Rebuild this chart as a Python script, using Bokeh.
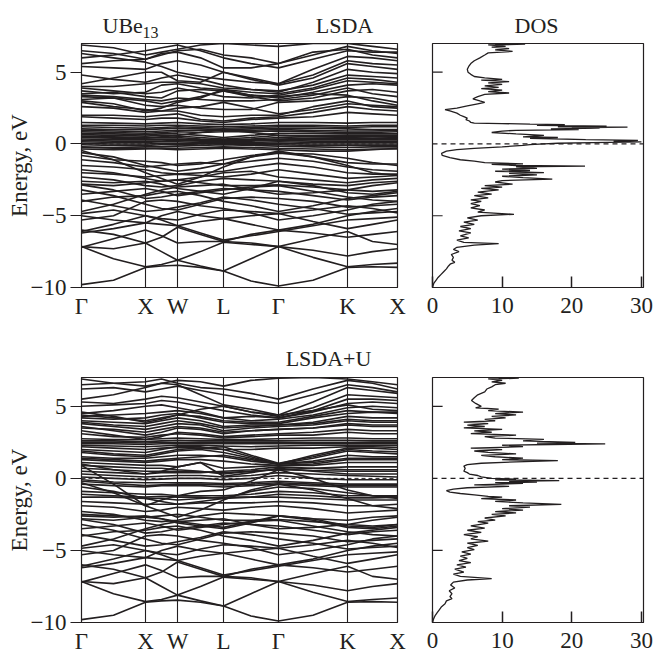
from bokeh.plotting import figure
from bokeh.layouts import column, row
from bokeh.models import FixedTicker, Span, Range1d
from bokeh.core.properties import value
from bokeh.embed import file_html
from bokeh.resources import INLINE

FONT = "Liberation Serif"
INK = "#231f20"

# ---------------- axes data ----------------
k_tick_pos = [0, 64, 96, 142, 197, 266, 316]
k_tick_labels = ["Γ", "X", "W", "L", "Γ", "K", "X"]
# sample points along the path: Γ, mid, X, mid, W, mid, L, mid, Γ, mid, K, mid, X
k_path = [0, 32, 64, 80, 96, 119, 142, 169.5, 197, 231.5, 266, 291, 316]
energy_ticks = [-10, -5, 0, 5]
energy_tick_labels = ["−10", "−5", "0", "5"]
dos_ticks = [0, 10, 20, 30]
dos_tick_labels = ["0", "10", "20", "30"]
dos_energy_ticks = [-5, 5]

# ---------------- bands shared by both calculations (Be s-p valence) ----------------
deep_bands = [
    [-9.8, -9.5, -8.6, -8.5, -8.45, -8.6, -8.85, -9.55, -9.9, -9.5, -8.6, -8.55, -8.6],
    [-7.15, -8.0, -8.55, -8.4, -8.1, -8.5, -8.85, -8.0, -7.15, -7.9, -8.55, -8.4, -8.3],
    [-7.15, -7.3, -6.9, -7.5, -8.1, -7.5, -6.85, -7.0, -7.15, -7.4, -7.8, -7.5, -7.3],
    [-7.2, -6.6, -6.0, -6.4, -6.9, -6.8, -6.8, -6.9, -7.15, -6.6, -6.1, -6.8, -7.0],
    [-6.0, -6.3, -6.9, -6.5, -5.8, -6.3, -6.8, -6.3, -6.0, -6.2, -6.5, -6.3, -6.1],
    [-6.1, -5.6, -5.0, -5.3, -5.7, -6.2, -6.7, -6.4, -6.1, -5.7, -5.3, -5.2, -5.1],
    [-5.0, -5.3, -5.5, -5.6, -5.7, -5.4, -5.2, -5.0, -4.85, -5.4, -5.9, -5.6, -5.3],
    [-4.85, -4.6, -5.0, -5.2, -5.3, -4.9, -4.6, -4.7, -4.85, -4.6, -4.3, -4.5, -4.8],
    [-5.3, -5.0, -4.0, -3.9, -4.0, -4.3, -4.5, -4.8, -5.3, -5.0, -4.6, -4.2, -4.0],
    [-4.0, -3.7, -3.6, -3.4, -3.3, -3.6, -4.0, -4.3, -4.7, -4.3, -3.8, -3.6, -3.4],
    [-3.5, -3.3, -3.1, -3.3, -3.6, -3.4, -3.2, -3.0, -2.9, -3.3, -3.7, -3.9, -4.0],
    [-2.85, -3.2, -3.8, -3.7, -3.5, -3.3, -3.1, -3.2, -3.3, -3.6, -3.9, -3.7, -3.6],
    [-2.8, -2.9, -2.7, -2.6, -2.5, -2.7, -2.9, -2.9, -2.85, -3.0, -3.2, -3.3, -3.2],
    [-2.3, -2.5, -2.9, -3.0, -2.9, -2.6, -2.4, -2.5, -2.6, -2.8, -2.9, -2.7, -2.6],
    [-4.7, -4.2, -3.5, -3.2, -3.0, -2.9, -2.8, -3.2, -3.5, -3.4, -3.2, -2.9, -2.7],
    [-6.2, -5.9, -5.5, -5.0, -4.7, -5.0, -5.2, -5.6, -6.0, -5.6, -5.0, -4.7, -4.5],
    [-2.6, -2.7, -2.6, -2.8, -3.1, -3.3, -3.5, -3.1, -2.6, -2.9, -3.4, -3.5, -3.3],
    [-3.2, -3.6, -4.2, -4.5, -4.6, -4.2, -3.8, -3.7, -3.8, -4.0, -4.4, -4.3, -4.2],
    [-3.9, -4.3, -4.7, -4.6, -4.4, -4.1, -3.7, -3.9, -4.2, -4.5, -4.9, -4.8, -4.7],
]

# ---------------- LSDA specific bands ----------------
lsda_valence = [
    [-0.45, -1.1, -2.0, -2.4, -2.8, -2.3, -1.6, -0.9, -0.5, -0.9, -1.5, -2.0, -2.2],
    [-0.6, -0.9, -1.5, -1.7, -1.9, -1.7, -1.4, -0.9, -0.65, -0.7, -1.0, -1.3, -1.5],
    [-1.1, -1.3, -1.6, -1.5, -1.4, -1.3, -1.4, -1.2, -1.0, -1.2, -1.6, -1.8, -1.9],
    [-1.5, -1.6, -1.8, -2.0, -2.1, -2.0, -1.9, -1.6, -1.35, -1.6, -2.0, -2.1, -2.1],
    [-2.0, -2.1, -2.3, -2.2, -2.1, -2.2, -2.3, -2.1, -1.8, -2.1, -2.4, -2.3, -2.2],
    [-1.8, -2.0, -2.4, -2.6, -2.5, -2.3, -2.0, -1.9, -2.3, -2.5, -2.7, -2.5, -2.4],
    [-0.8, -1.1, -1.2, -1.3, -1.5, -1.4, -1.1, -0.8, -0.6, -0.9, -1.3, -1.4, -1.4],
]
lsda_f_bands = [
    [1.5, 1.45, 1.4, 1.45, 1.5, 1.4, 1.35, 1.4, 1.5, 1.5, 1.45, 1.5, 1.5],
    [1.3, 1.3, 1.25, 1.3, 1.3, 1.25, 1.2, 1.25, 1.3, 1.3, 1.25, 1.3, 1.3],
    [1.2, 1.15, 1.1, 1.15, 1.2, 1.15, 1.1, 1.15, 1.2, 1.2, 1.15, 1.2, 1.2],
    [1.05, 1.0, 1.0, 1.05, 1.1, 1.05, 1.0, 1.05, 1.1, 1.1, 1.05, 1.0, 1.0],
    [0.95, 0.9, 0.85, 0.9, 0.95, 0.95, 0.95, 0.95, 1.0, 0.95, 0.9, 0.9, 0.95],
    [0.85, 0.8, 0.75, 0.8, 0.85, 0.8, 0.85, 0.85, 0.9, 0.85, 0.8, 0.8, 0.85],
    [0.75, 0.7, 0.65, 0.7, 0.7, 0.6, 0.45, 0.6, 0.75, 0.75, 0.7, 0.7, 0.7],
    [0.65, 0.6, 0.55, 0.6, 0.55, 0.45, 0.35, 0.45, 0.6, 0.6, 0.6, 0.6, 0.6],
    [0.55, 0.5, 0.45, 0.45, 0.45, 0.35, 0.3, 0.35, 0.45, 0.5, 0.5, 0.5, 0.5],
    [0.5, 0.45, 0.4, 0.5, 0.6, 0.8, 1.0, 0.8, 0.6, 0.5, 0.45, 0.4, 0.45],
    [0.45, 0.4, 0.35, 0.35, 0.35, 0.3, 0.25, 0.3, 0.35, 0.4, 0.4, 0.4, 0.4],
    [0.35, 0.3, 0.3, 0.3, 0.3, 0.25, 0.2, 0.25, 0.3, 0.3, 0.3, 0.3, 0.3],
    [0.25, 0.2, 0.2, 0.2, 0.25, 0.2, 0.15, 0.2, 0.25, 0.2, 0.2, 0.2, 0.2],
    [0.15, 0.1, 0.1, 0.15, 0.15, 0.1, 0.1, 0.1, 0.15, 0.1, 0.1, 0.1, 0.1],
    [0.05, 0.0, 0.0, 0.05, 0.05, 0.05, 0.05, 0.05, 0.05, 0.0, 0.0, 0.0, 0.0],
    [-0.05, -0.1, -0.1, -0.05, -0.05, 0.0, 0.0, -0.05, -0.05, -0.1, -0.1, -0.1, -0.1],
    [-0.2, -0.25, -0.2, -0.2, -0.15, -0.1, -0.05, -0.1, -0.15, -0.2, -0.25, -0.2, -0.2],
    [-0.25, -0.3, -0.3, -0.35, -0.4, -0.35, -0.3, -0.35, -0.4, -0.5, -0.5, -0.4, -0.3],
    [-0.35, -0.4, -0.35, -0.3, -0.3, -0.25, -0.2, -0.25, -0.3, -0.35, -0.4, -0.35, -0.35],
]
lsda_conduction = [
    [6.9, 6.7, 6.2, 6.4, 6.6, 6.9, 7.0, 6.9, 6.8, 7.0, 7.0, 6.8, 6.6],
    [6.5, 6.3, 5.9, 6.2, 6.5, 6.6, 6.2, 6.0, 5.6, 6.2, 6.8, 6.5, 6.3],
    [5.6, 5.8, 5.9, 6.3, 6.4, 6.0, 5.3, 5.3, 5.6, 6.4, 6.6, 6.2, 6.0],
    [5.4, 5.3, 5.2, 5.6, 5.8, 5.5, 5.0, 4.6, 4.2, 5.2, 6.1, 6.0, 5.8],
    [4.2, 4.6, 5.0, 5.0, 4.4, 4.3, 5.0, 4.5, 4.1, 4.6, 5.6, 5.4, 5.2],
    [4.0, 4.0, 4.2, 4.3, 4.3, 4.2, 3.9, 3.8, 3.6, 4.3, 5.2, 5.0, 4.9],
    [3.7, 3.5, 3.6, 4.1, 4.2, 3.9, 3.8, 3.6, 3.5, 3.9, 4.6, 4.5, 4.3],
    [3.5, 3.6, 3.3, 3.2, 3.7, 3.8, 3.7, 3.4, 3.2, 3.6, 4.1, 4.2, 4.1],
    [3.3, 3.2, 3.0, 2.8, 3.0, 3.3, 3.7, 3.3, 3.0, 3.2, 3.7, 3.8, 3.6],
    [3.1, 3.2, 2.7, 2.6, 2.7, 2.5, 2.4, 2.4, 2.9, 3.0, 3.3, 3.2, 2.9],
    [2.9, 2.6, 2.4, 2.3, 2.3, 2.0, 1.9, 2.0, 2.0, 2.6, 3.0, 2.6, 2.5],
    [2.0, 2.0, 1.9, 2.0, 2.1, 1.7, 1.6, 1.8, 1.9, 2.2, 2.6, 2.4, 2.3],
    [1.9, 1.8, 1.7, 1.8, 1.8, 1.6, 1.5, 1.7, 1.8, 1.9, 2.2, 2.1, 2.0],
    [3.0, 2.8, 2.3, 2.5, 2.9, 3.2, 3.8, 3.4, 3.3, 3.5, 3.4, 3.0, 2.7],
    [6.3, 6.0, 5.7, 5.4, 5.0, 4.7, 4.5, 4.3, 4.2, 4.8, 5.8, 5.6, 5.5],
    [6.0, 6.2, 6.5, 6.7, 6.9, 6.5, 6.0, 5.6, 5.3, 5.9, 6.5, 6.4, 6.4],
    [4.8, 4.5, 4.3, 4.6, 4.8, 4.5, 4.1, 3.8, 3.7, 4.1, 4.8, 4.7, 4.6],
    [3.9, 3.7, 3.5, 3.6, 3.9, 3.6, 3.3, 3.2, 3.4, 3.8, 4.4, 4.3, 4.2],
    [3.4, 3.3, 3.1, 3.0, 3.2, 3.1, 3.0, 3.0, 3.1, 3.4, 3.9, 3.5, 3.3],
    [2.6, 2.5, 2.2, 2.3, 2.5, 2.6, 2.9, 2.5, 2.1, 2.4, 2.8, 2.7, 2.6],
]

# ---------------- LSDA+U specific bands ----------------
lsdau_valence = [
    [-0.3, -1.0, -1.9, -2.3, -2.7, -2.2, -1.5, -0.8, -0.4, -0.8, -1.4, -1.9, -2.1],
    [-0.6, -0.9, -1.4, -1.6, -1.8, -1.6, -1.4, -0.9, -0.6, -0.7, -1.0, -1.2, -1.4],
    [-1.9, -2.0, -2.3, -2.2, -2.0, -2.1, -2.2, -2.0, -1.9, -2.1, -2.4, -2.3, -2.2],
    [0.9, -0.4, -1.9, -1.5, -1.2, -0.9, -0.8, -0.2, 0.6, 0.0, -0.8, -1.2, -1.3],
    [-0.9, -1.0, -1.1, -1.1, -1.2, -1.2, -1.2, -1.1, -0.9, -1.0, -1.2, -1.2, -1.2],
    [-1.3, -1.3, -1.4, -1.4, -1.5, -1.4, -1.3, -1.3, -1.3, -1.4, -1.5, -1.5, -1.5],
    [-1.6, -1.7, -1.8, -1.8, -1.8, -1.7, -1.7, -1.7, -1.6, -1.7, -1.9, -1.9, -1.8],
    [-1.1, -1.2, -1.3, -1.25, -1.3, -1.3, -1.4, -1.3, -1.1, -1.2, -1.35, -1.35, -1.3],
    [-2.5, -2.6, -2.7, -2.8, -3.0, -3.2, -3.4, -3.0, -2.6, -2.8, -3.3, -3.4, -3.2],
]
lsdau_f_bands = [
    [1.1, 1.0, 0.9, 0.9, 0.8, 1.1, 0.7, 0.8, 0.9, 0.9, 1.1, 1.1, 1.1],
    [1.0, 0.6, 0.3, 0.5, 0.8, 1.1, 0.15, 0.4, 0.7, 0.5, 0.3, 0.3, 0.3],
    [0.9, 0.8, 0.7, 0.7, 0.6, 0.5, 0.3, 0.5, 0.6, 0.7, 0.8, 0.8, 0.8],
    [0.7, 0.6, 0.5, 0.5, 0.5, 0.45, 0.4, 0.5, 0.6, 0.55, 0.5, 0.5, 0.5],
    [0.5, 0.4, 0.3, 0.4, 0.4, 0.4, 0.5, 0.6, 0.8, 0.7, 0.6, 0.6, 0.6],
    [0.3, 0.2, 0.1, 0.15, 0.2, 0.2, 0.1, 0.2, 0.4, 0.3, 0.2, 0.15, 0.1],
    [0.1, 0.0, -0.1, -0.05, 0.0, 0.0, -0.1, 0.0, 0.2, 0.0, -0.1, -0.1, -0.1],
    [-0.1, -0.25, -0.3, -0.3, -0.3, -0.3, -0.35, -0.3, -0.2, -0.3, -0.4, -0.4, -0.4],
    [-0.2, -0.35, -0.5, -0.45, -0.4, -0.4, -0.45, -0.4, -0.3, -0.4, -0.5, -0.5, -0.5],
    [-0.4, -0.5, -0.6, -0.5, -0.5, -0.5, -0.6, -0.5, -0.4, -0.5, -0.6, -0.6, -0.6],
    [2.75, 2.7, 2.7, 2.75, 2.8, 2.75, 2.7, 2.7, 2.75, 2.8, 2.8, 2.75, 2.75],
    [2.6, 2.6, 2.55, 2.6, 2.65, 2.6, 2.6, 2.6, 2.6, 2.65, 2.65, 2.6, 2.6],
    [2.5, 2.5, 2.45, 2.5, 2.5, 2.5, 2.5, 2.5, 2.5, 2.5, 2.5, 2.5, 2.5],
    [2.4, 2.4, 2.35, 2.4, 2.4, 2.4, 2.4, 2.4, 2.4, 2.4, 2.4, 2.4, 2.4],
    [2.3, 2.25, 2.2, 2.25, 2.3, 2.3, 2.25, 2.2, 2.25, 2.3, 2.3, 2.3, 2.3],
    [2.2, 2.1, 2.0, 2.1, 2.15, 2.1, 2.0, 2.0, 2.1, 2.1, 2.2, 2.2, 2.15],
]
lsdau_conduction = [
    [6.9, 6.6, 6.4, 6.6, 6.8, 6.7, 6.4, 6.8, 6.95, 7.0, 6.9, 6.7, 6.5],
    [6.5, 6.6, 6.7, 6.9, 6.6, 6.3, 6.2, 5.9, 5.5, 6.2, 6.8, 6.6, 6.2],
    [6.2, 6.3, 6.0, 6.2, 6.4, 6.1, 5.8, 5.5, 5.2, 5.8, 6.5, 6.3, 6.0],
    [5.5, 5.8, 6.3, 6.6, 6.5, 5.8, 5.1, 4.8, 4.4, 5.3, 6.3, 6.1, 5.9],
    [5.3, 5.2, 5.5, 5.7, 5.6, 5.3, 5.0, 4.6, 4.3, 4.9, 5.8, 5.7, 5.6],
    [5.0, 5.1, 5.2, 5.4, 5.3, 5.0, 4.7, 4.4, 4.2, 4.7, 5.5, 5.5, 5.4],
    [4.6, 4.3, 3.9, 4.1, 4.4, 4.8, 5.0, 4.6, 4.4, 4.7, 5.1, 4.8, 4.7],
    [4.5, 4.7, 5.0, 5.1, 4.9, 4.6, 4.2, 4.3, 4.2, 4.6, 5.2, 5.3, 5.2],
    [4.4, 4.2, 4.0, 4.2, 4.4, 4.3, 4.0, 3.9, 3.9, 4.3, 4.7, 4.6, 4.6],
    [4.3, 4.4, 4.5, 4.6, 4.7, 4.5, 4.2, 4.0, 4.1, 4.4, 4.9, 5.0, 4.9],
    [4.2, 4.1, 4.2, 4.4, 4.5, 4.2, 3.9, 3.8, 3.8, 4.2, 4.5, 4.6, 4.5],
    [4.0, 3.9, 3.8, 4.0, 4.2, 4.0, 3.6, 3.7, 3.7, 3.9, 4.3, 4.2, 4.2],
    [3.9, 3.7, 3.6, 3.8, 4.0, 3.8, 3.5, 3.6, 3.7, 3.8, 4.1, 4.0, 4.0],
    [3.8, 3.6, 3.4, 3.6, 3.8, 3.7, 3.3, 3.5, 3.6, 3.7, 4.0, 3.9, 3.9],
    [3.6, 3.3, 3.0, 3.2, 3.5, 3.4, 3.1, 3.3, 3.4, 3.5, 3.7, 3.6, 3.6],
    [3.5, 3.4, 3.2, 3.4, 3.6, 3.5, 3.2, 3.3, 3.4, 3.5, 3.8, 3.7, 3.7],
    [3.3, 3.0, 2.7, 2.9, 3.2, 3.1, 2.9, 3.0, 3.1, 3.2, 3.4, 3.3, 3.3],
    [3.1, 2.9, 2.85, 3.0, 3.1, 3.0, 2.8, 2.9, 3.0, 3.0, 3.2, 3.1, 3.1],
    [2.0, 1.9, 1.8, 2.0, 2.2, 2.2, 2.0, 1.5, 1.0, 1.6, 2.1, 2.1, 2.0],
    [1.9, 1.7, 1.6, 1.8, 2.0, 2.1, 2.2, 1.6, 1.05, 1.5, 2.0, 1.9, 1.85],
    [1.8, 1.6, 1.5, 1.7, 1.9, 2.0, 1.8, 1.4, 1.0, 1.4, 1.9, 1.8, 1.7],
    [1.5, 1.4, 1.4, 1.5, 1.6, 1.6, 1.5, 1.2, 1.0, 1.2, 1.6, 1.5, 1.5],
    [1.4, 1.3, 1.2, 1.3, 1.4, 1.5, 1.6, 1.3, 1.0, 1.1, 1.4, 1.4, 1.4],
    [1.3, 1.2, 1.1, 1.2, 1.3, 1.3, 1.2, 1.0, 0.9, 1.0, 1.3, 1.3, 1.3],
]

# ---------------- densities of states (energy, states/eV) ----------------
lsda_dos_energy = [
    7.0, 6.95, 6.9, 6.8, 6.75, 6.65, 6.55, 6.45, 6.35, 6.2, 6.0, 5.8, 5.6, 5.4, 5.2, 5.0,
    4.85, 4.7, 4.6, 4.5, 4.45, 4.35, 4.25, 4.15, 4.05, 3.95, 3.85, 3.75, 3.65, 3.55, 3.45,
    3.3, 3.15, 3.0, 2.9, 2.8, 2.65, 2.5, 2.4, 2.3, 2.15, 2.0, 1.9, 1.8, 1.7, 1.6, 1.5,
    1.45, 1.42, 1.38, 1.35, 1.3, 1.25, 1.2, 1.17, 1.13, 1.1, 1.05, 1.0, 0.95, 0.9, 0.8,
    0.7, 0.6, 0.5, 0.45, 0.4, 0.3, 0.25, 0.2, 0.15, 0.1, 0.05, 0.0, -0.05, -0.1, -0.2,
    -0.3, -0.4, -0.5, -0.65, -0.8, -0.95, -1.1, -1.2, -1.3, -1.38, -1.42, -1.5, -1.55,
    -1.6, -1.7, -1.75, -1.85, -1.9, -2.0, -2.05, -2.15, -2.25, -2.35, -2.45, -2.55,
    -2.65, -2.8, -2.9, -3.0, -3.1, -3.2, -3.35, -3.5, -3.6, -3.75, -3.9, -4.0, -4.15,
    -4.3, -4.45, -4.6, -4.75, -4.9, -5.0, -5.15, -5.3, -5.45, -5.6, -5.75, -5.9, -6.05,
    -6.2, -6.4, -6.55, -6.7, -6.85, -6.95, -7.05, -7.2, -7.35, -7.5, -7.7, -7.9, -8.1,
    -8.25, -8.35, -8.5, -8.7, -8.9, -9.1, -9.3, -9.5, -9.7, -9.9, -10.0,
]
lsda_dos = [
    9.0, 13.3, 8.0, 10.5, 8.5, 11.0, 9.0, 11.5, 8.0, 7.5, 6.8, 6.0, 5.5, 5.2, 5.0, 5.1,
    5.5, 6.0, 7.5, 10.0, 7.0, 11.0, 8.0, 10.0, 7.5, 9.5, 7.0, 10.0, 8.0, 11.0, 7.5,
    6.5, 5.8, 6.8, 7.5, 6.5, 5.0, 3.5, 1.8, 2.5, 3.5, 4.0, 4.5, 5.0, 4.8, 5.3, 5.5,
    6.0, 10.0, 14.0, 19.0, 15.0, 25.0, 18.0, 28.0, 20.0, 24.0, 17.0, 21.0, 12.0, 10.0, 8.5,
    12.0, 16.0, 13.0, 18.0, 14.0, 22.0, 29.5, 26.0, 30.0, 23.0, 18.0, 16.0, 14.0, 13.0, 10.0,
    6.0, 3.5, 2.0, 1.3, 1.4, 2.5, 4.0, 6.0, 7.5, 13.0, 8.5, 12.0, 21.9,
    12.0, 15.0, 10.0, 14.0, 9.0, 16.0, 11.0, 15.0, 10.0, 13.0, 17.2, 10.0,
    9.0, 11.5, 7.5, 10.0, 7.0, 9.5, 6.5, 8.5, 6.0, 8.0, 5.5, 7.0, 5.5,
    6.8, 5.5, 7.5, 6.5, 11.7, 7.0, 5.0, 6.5, 4.5, 6.0, 4.0, 5.5, 3.8,
    5.5, 4.0, 5.2, 3.5, 4.5, 9.5, 6.0, 3.5, 3.0, 3.8, 2.7, 3.0, 2.8,
    3.2, 2.6, 2.3, 2.0, 1.6, 1.2, 0.8, 0.5, 0.2, 0.05, 0.0,
]
lsdau_dos_energy = [
    7.0, 6.95, 6.9, 6.8, 6.7, 6.6, 6.5, 6.35, 6.2, 6.0, 5.8, 5.6, 5.4, 5.2, 5.0, 4.9,
    4.8, 4.7, 4.6, 4.5, 4.4, 4.3, 4.2, 4.1, 4.0, 3.9, 3.8, 3.7, 3.6, 3.5, 3.4, 3.3,
    3.2, 3.1, 3.0, 2.9, 2.8, 2.7, 2.6, 2.5, 2.45, 2.4, 2.35, 2.3, 2.2, 2.1, 2.0, 1.9,
    1.8, 1.7, 1.6, 1.5, 1.4, 1.3, 1.23, 1.15, 1.05, 0.95, 0.85, 0.7, 0.5, 0.4, 0.3,
    0.2, 0.1, 0.0, -0.05, -0.1, -0.15, -0.2, -0.25, -0.3, -0.35, -0.45, -0.55, -0.65,
    -0.75, -0.85, -0.95, -1.05, -1.15, -1.25, -1.3, -1.4, -1.5, -1.6, -1.7, -1.8, -1.9,
    -2.0, -2.1, -2.2, -2.3, -2.4, -2.5, -2.6, -2.75, -2.9, -3.0, -3.1, -3.3, -3.45,
    -3.6, -3.75, -3.9, -4.05, -4.2, -4.35, -4.5, -4.65, -4.8, -4.95, -5.1, -5.25, -5.4,
    -5.55, -5.7, -5.85, -6.0, -6.15, -6.3, -6.5, -6.65, -6.8, -6.95, -7.05, -7.2, -7.4,
    -7.6, -7.8, -8.0, -8.2, -8.35, -8.5, -8.7, -8.9, -9.1, -9.3, -9.5, -9.7, -9.9, -10.0,
]
lsdau_dos = [
    9.5, 12.4, 8.0, 10.0, 8.5, 10.5, 9.0, 8.5, 7.8, 7.5, 6.5, 6.0, 5.6, 6.2, 7.0, 6.2,
    9.5, 8.0, 13.0, 9.0, 12.0, 8.5, 10.5, 7.5, 9.0, 4.5, 8.0, 5.0, 7.5, 4.5, 10.0, 6.0,
    8.5, 5.5, 12.0, 7.5, 9.0, 16.0, 13.0, 20.5, 15.0, 24.8, 17.0, 10.0, 13.0, 5.5, 10.0, 6.0,
    8.0, 12.0, 7.0, 9.0, 13.0, 10.0, 18.0, 12.0, 7.0, 5.0, 4.5, 4.7, 4.5, 5.0, 5.3,
    6.5, 7.0, 8.5, 12.0, 9.0, 18.2, 11.0, 15.0, 9.0, 13.0, 6.0, 11.0, 5.0,
    3.0, 2.0, 2.5, 4.0, 6.0, 8.0, 10.0, 7.0, 12.0, 9.0, 13.0, 18.5, 11.0,
    14.0, 10.0, 13.0, 9.0, 12.0, 8.5, 10.5, 7.5, 9.0, 6.5, 8.0, 5.5, 7.5,
    5.0, 7.0, 4.5, 6.5, 5.5, 8.0, 5.0, 6.5, 5.0, 6.0, 4.2, 5.5, 4.0,
    5.0, 3.8, 5.5, 3.5, 4.8, 3.2, 4.5, 3.0, 4.0, 8.5, 5.0, 3.0, 2.6,
    3.2, 2.4, 2.8, 2.5, 2.8, 2.0, 1.8, 1.3, 1.0, 0.7, 0.4, 0.2, 0.05, 0.0,
]

# ---------------- panel titles ----------------
title_top = ["UBe", "13", "LSDA", "DOS"]
title_bottom = ["LSDA+U"]


def style_axis(axis, size):
    axis.major_label_text_font = FONT
    axis.major_label_text_font_size = size
    axis.major_label_text_color = INK
    axis.axis_line_color = INK
    axis.major_tick_line_color = INK
    axis.minor_tick_line_color = None


def band_figure(bands, height, top, bottom):
    p = figure(width=415, height=height, x_range=Range1d(0, 316), y_range=Range1d(-10, 7),
               output_backend="svg", toolbar_location=None,
               min_border_left=81, min_border_right=18,
               min_border_top=top, min_border_bottom=bottom)
    p.grid.visible = False
    p.outline_line_color = INK
    p.outline_line_width = 1.2
    p.outline_line_alpha = 1.0
    xa, ya = p.xaxis[0], p.yaxis[0]
    xa.ticker = FixedTicker(ticks=k_tick_pos)
    xa.major_label_overrides = dict(zip(k_tick_pos, k_tick_labels))
    xa.major_tick_out = 0
    xa.major_tick_in = 0
    xa.major_label_standoff = 6
    style_axis(xa, "23px")
    ya.ticker = FixedTicker(ticks=energy_ticks)
    ya.major_label_overrides = dict(zip(energy_ticks, energy_tick_labels))
    ya.major_tick_out = 11
    ya.major_tick_in = 0
    ya.major_label_standoff = 4
    style_axis(ya, "23px")
    ya.axis_label = "Energy, eV"
    ya.axis_label_text_font = FONT
    ya.axis_label_text_font_size = "23px"
    ya.axis_label_text_font_style = "normal"
    ya.axis_label_text_color = INK
    ya.axis_label_standoff = -4
    for kx in k_tick_pos[1:-1]:
        p.add_layout(Span(location=kx, dimension="height", line_color=INK, line_width=1.1))
    p.add_layout(Span(location=0, dimension="width", line_color=INK, line_width=1,
                      line_dash="4 3"))
    p.multi_line(xs=[k_path] * len(bands), ys=bands, line_color=INK, line_width=1.6)
    return p


def dos_figure(energy, dos, height, top, bottom):
    p = figure(width=251, height=height, x_range=Range1d(0, 30.3), y_range=Range1d(-10, 7),
               output_backend="svg", toolbar_location=None,
               min_border_left=17, min_border_right=23,
               min_border_top=top, min_border_bottom=bottom)
    p.grid.visible = False
    p.outline_line_color = INK
    p.outline_line_width = 1.2
    p.outline_line_alpha = 1.0
    xa = p.xaxis[0]
    xa.ticker = FixedTicker(ticks=dos_ticks)
    xa.major_label_overrides = dict(zip(dos_ticks, dos_tick_labels))
    xa.major_tick_in = 11
    xa.major_tick_out = 0
    xa.major_tick_line_width = 1.5
    xa.major_label_standoff = 10
    style_axis(xa, "23px")
    p.yaxis.visible = False
    # inward energy tick marks on the left edge
    p.segment(x0=[0] * len(dos_energy_ticks), x1=[1.45] * len(dos_energy_ticks),
              y0=dos_energy_ticks, y1=dos_energy_ticks, line_color=INK, line_width=1.2)
    p.add_layout(Span(location=0, dimension="width", line_color=INK, line_width=1.2,
                      line_dash="5 4"))
    p.line(x=dos, y=energy, line_color=INK, line_width=1.3)
    return p


def header(height):
    h = figure(width=666, height=height, x_range=Range1d(0, 666), y_range=Range1d(height, 0),
               output_backend="svg", toolbar_location=None, x_axis_type=None, y_axis_type=None,
               min_border_left=0, min_border_right=0, min_border_top=0, min_border_bottom=0)
    h.grid.visible = False
    h.outline_line_color = None
    return h


head_top = header(41)
head_top.text(x=[102], y=[25], text=[title_top[0]], text_font=value(FONT),
              text_font_size="22px", text_color=INK, text_baseline="alphabetic", text_align="left")
head_top.text(x=[142], y=[32], text=[title_top[1]], text_font=value(FONT),
              text_font_size="16px", text_color=INK, text_baseline="alphabetic", text_align="left")
head_top.text(x=[344], y=[25], text=[title_top[2]], text_font=value(FONT),
              text_font_size="22px", text_color=INK, text_baseline="alphabetic", text_align="center")
head_top.text(x=[536], y=[25], text=[title_top[3]], text_font=value(FONT),
              text_font_size="22px", text_color=INK, text_baseline="alphabetic", text_align="center")

head_bot = header(44)
head_bot.text(x=[328], y=[28], text=[title_bottom[0]], text_font=value(FONT),
              text_font_size="22px", text_color=INK, text_baseline="alphabetic", text_align="center")

top_band = band_figure(deep_bands + lsda_valence + lsda_f_bands + lsda_conduction, 289, 2, 43)
top_dos = dos_figure(lsda_dos_energy, lsda_dos, 289, 2, 43)
bot_band = band_figure(deep_bands + lsdau_valence + lsdau_f_bands + lsdau_conduction, 285, 3, 37)
bot_dos = dos_figure(lsdau_dos_energy, lsdau_dos, 285, 3, 37)

layout = column(head_top, row(top_band, top_dos), head_bot, row(bot_band, bot_dos))
open("out.html", "w").write(file_html(layout, INLINE))
